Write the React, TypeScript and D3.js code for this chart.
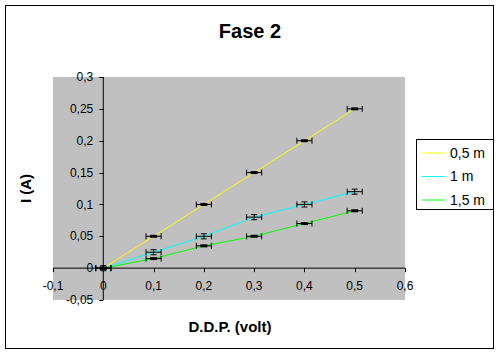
import React from 'react'
import * as d3 from 'd3'

// data
const xValues = [0, 0.1, 0.2, 0.3, 0.4, 0.5]
const current05 = [0, 0.05, 0.1, 0.15, 0.2, 0.25]
const current1 = [0, 0.025, 0.05, 0.08, 0.1, 0.12]
const current15 = [0, 0.015, 0.035, 0.05, 0.07, 0.09]
const seriesNames = ['0,5 m', '1 m', '1,5 m']
const seriesColors = ['#ffff00', '#00ffff', '#00ff00']
const xError = 0.015
const yErrors = [0, 0.004, 0]
const xTicks = [-0.1, 0, 0.1, 0.2, 0.3, 0.4, 0.5, 0.6]
const yTicks = [-0.05, 0, 0.05, 0.1, 0.15, 0.2, 0.25, 0.3]

const font = "Arial, 'Liberation Sans', sans-serif"
const fmt = (v: number) => String(Math.round(v * 100) / 100).replace('.', ',')

const App = () => {
  const plot = { left: 53, top: 77, right: 405, bottom: 300 }
  const x = d3.scaleLinear().domain([-0.1, 0.6]).range([plot.left, plot.right])
  const y = d3.scaleLinear().domain([-0.05, 0.3]).range([plot.bottom, plot.top])

  const series = [current05, current1, current15]
  const line = d3.line<number>()
    .x((d, i) => x(xValues[i]))
    .y(d => y(d))

  return (
    <svg width={500} height={354} style={{ position: 'absolute', left: 0, top: 0 }} fontFamily={font}>
      <rect x={0} y={0} width={500} height={354} fill="#fff" />
      <rect x={5.5} y={5.5} width={488} height={343} fill="none" stroke="#000" />

      <text x={250} y={38} textAnchor="middle" fontSize={20} fontWeight="bold">Fase 2</text>

      <rect x={plot.left} y={plot.top} width={plot.right - plot.left} height={plot.bottom - plot.top} fill="#c0c0c0" />

      {/* axes */}
      <line x1={x(0)} x2={x(0)} y1={plot.top} y2={plot.bottom} stroke="#000" />
      <line x1={plot.left} x2={plot.right} y1={y(0)} y2={y(0)} stroke="#000" />
      {yTicks.map(t => (
        <g key={'y' + t}>
          <line x1={x(0) - 4} x2={x(0)} y1={Math.round(y(t)) + 0.5} y2={Math.round(y(t)) + 0.5} stroke="#000" />
          <text x={x(0) - 10} y={y(t)} dy="0.35em" textAnchor="end" fontSize={12}>{fmt(t)}</text>
        </g>
      ))}
      {xTicks.map(t => (
        <g key={'x' + t}>
          <line x1={Math.round(x(t)) + 0.5} x2={Math.round(x(t)) + 0.5} y1={y(0)} y2={y(0) + 4} stroke="#000" />
          <text x={x(t)} y={y(0) + 22} textAnchor="middle" fontSize={12}>{fmt(t)}</text>
        </g>
      ))}

      {/* lines */}
      {series.map((s, k) => (
        <path key={'l' + k} d={line(s) || ''} fill="none" stroke={seriesColors[k]} strokeWidth={1} />
      ))}

      {/* error bars and markers */}
      {series.map((s, k) => (
        <g key={'e' + k} stroke="#000" strokeWidth={1}>
          {s.map((v, i) => {
            const cx = x(xValues[i])
            const cy = y(v)
            const x0 = x(xValues[i] - xError)
            const x1 = x(xValues[i] + xError)
            const ey = yErrors[k]
            return (
              <g key={i}>
                <line x1={x0} x2={x1} y1={cy} y2={cy} />
                <line x1={x0} x2={x0} y1={cy - 3} y2={cy + 3} />
                <line x1={x1} x2={x1} y1={cy - 3} y2={cy + 3} />
                {ey > 0 && (
                  <g>
                    <line x1={cx} x2={cx} y1={y(v + ey)} y2={y(v - ey)} />
                    <line x1={cx - 3} x2={cx + 3} y1={y(v + ey)} y2={y(v + ey)} />
                    <line x1={cx - 3} x2={cx + 3} y1={y(v - ey)} y2={y(v - ey)} />
                  </g>
                )}
                {ey === 0 && <rect x={cx - 3.5} y={cy - 1.5} width={7} height={3} fill="#000" stroke="none" />}
              </g>
            )
          })}
        </g>
      ))}

      {/* axis titles */}
      <text x={230} y={332} textAnchor="middle" fontSize={15} fontWeight="bold">D.D.P. (volt)</text>
      <text transform={`translate(31,${(plot.top + plot.bottom) / 2}) rotate(-90)`} textAnchor="middle" fontSize={15} fontWeight="bold">I (A)</text>

      {/* legend */}
      <rect x={416.5} y={139.5} width={77} height={70} fill="#fff" stroke="#000" />
      {seriesNames.map((n, k) => (
        <g key={'lg' + k}>
          <line x1={422} x2={445} y1={153 + k * 23.5} y2={153 + k * 23.5} stroke={seriesColors[k]} />
          <text x={450} y={153 + k * 23.5} dy="0.35em" fontSize={14}>{n}</text>
        </g>
      ))}
    </svg>
  )
}

export default App
